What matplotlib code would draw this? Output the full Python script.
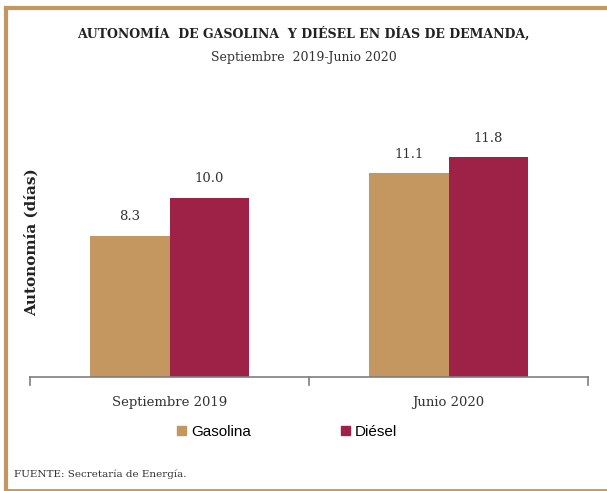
import numpy as np
import matplotlib.pyplot as plt
from matplotlib.patches import Patch
from matplotlib.lines import Line2D

categories = ['Septiembre 2019', 'Junio 2020']
gasolina = [8.3, 11.1]
diesel = [10.0, 11.8]
series_names = ['Gasolina', 'Diésel']

c_gas = '#C49660'
c_die = '#9E2248'
serif = 'DejaVu Serif'
sans = 'Liberation Sans'

fig = plt.figure(figsize=(6.07, 4.91), dpi=100)
fig.patch.set_facecolor('white')

W, H = 607, 491
ax = fig.add_axes([30 / W, (H - 377) / H, (588 - 30) / W, (377 - 108) / H])

x = np.arange(len(categories))
w = 0.284
b1 = ax.bar(x - w / 2, gasolina, w, color=c_gas, bottom=0)
b2 = ax.bar(x + w / 2, diesel, w, color=c_die, bottom=0)

ax.set_xlim(-0.5, 1.5)
ax.set_ylim(2, 14)

for rects, vals in ((b1, gasolina), (b2, diesel)):
    for r, v in zip(rects, vals):
        ax.text(r.get_x() + r.get_width() / 2, v + 0.55, f'{v:.1f}',
                ha='center', va='bottom', fontsize=9.5, family=serif,
                color='#333333')

for s in ['top', 'right', 'left']:
    ax.spines[s].set_visible(False)
ax.spines['bottom'].set_color('#7f7f7f')
ax.spines['bottom'].set_linewidth(1.2)
ax.set_yticks([])
ax.set_xticks(x)
ax.set_xticklabels(categories, family=serif, fontsize=9.5, color='#333333')
ax.tick_params(axis='x', length=0, pad=14)
for xt in [-0.5, 0.5, 1.5]:
    ax.plot([xt, xt], [2, 1.65], color='#7f7f7f', lw=1.2, clip_on=False)

ax.set_ylabel('Autonomía (días)', family=serif, fontsize=11, fontweight='bold',
              color='#222222')
ax.yaxis.set_label_coords(0.016, 0.5)

fig.text(0.5, 1 - 34 / H, 'AUTONOMÍA  DE GASOLINA  Y DIÉSEL EN DÍAS DE DEMANDA,',
         ha='center', va='center', family=serif, fontsize=9, fontweight='bold',
         color='#222222')
fig.text(0.5, 1 - 57 / H, 'Septiembre  2019-Junio 2020', ha='center', va='center',
         family=serif, fontsize=9, color='#333333')

handles = [Patch(color=c_gas), Patch(color=c_die)]
fig.legend(handles, series_names, loc='center', bbox_to_anchor=(287 / W, 1 - 432 / H),
           ncol=2, frameon=False, prop={'family': sans, 'size': 11},
           handlelength=0.6, handleheight=0.6, handletextpad=0.3, columnspacing=5.9)

fig.text(14 / W, 1 - 474 / H, 'FUENTE: Secretaría de Energía.', ha='left',
         va='center', family=serif, fontsize=7.5, color='#333333')

# border: left, top, bottom only
fig.add_artist(Line2D([6 / W, 6 / W], [1 - 8 / H, 1 - 490 / H], color=c_gas, lw=3))
fig.add_artist(Line2D([6 / W, 1], [1 - 8 / H, 1 - 8 / H], color=c_gas, lw=3))
fig.add_artist(Line2D([6 / W, 1], [1 - 490 / H, 1 - 490 / H], color=c_gas, lw=2))

fig.savefig('out.png', dpi=100)
